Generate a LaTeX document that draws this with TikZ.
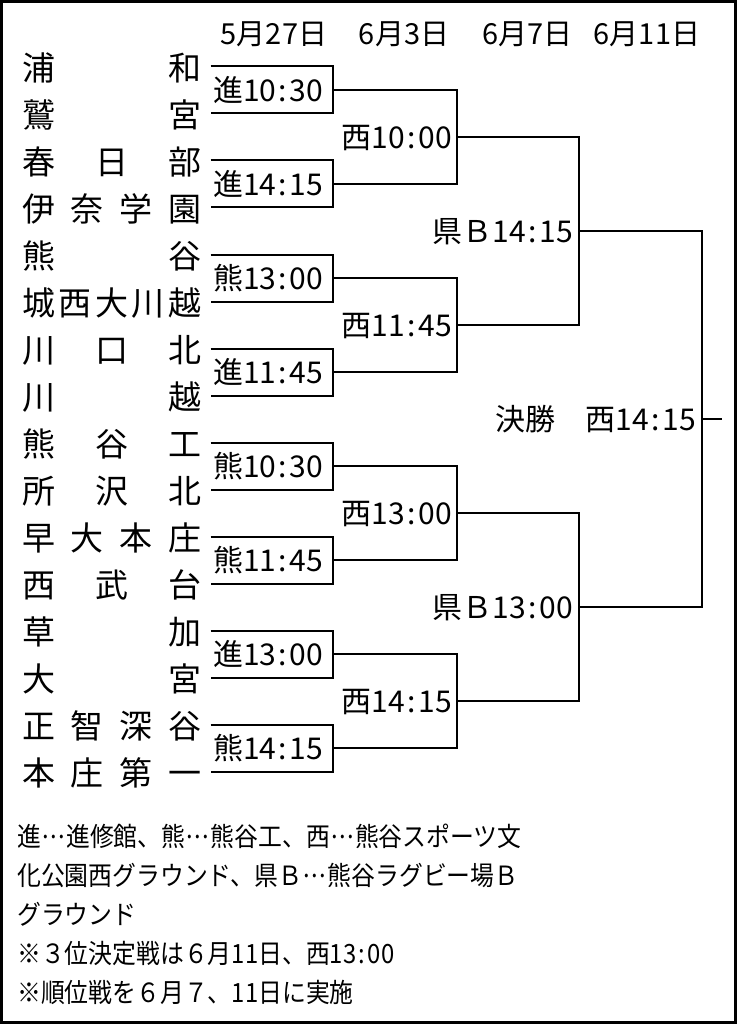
\documentclass[tikz,border=0pt]{standalone}
\usepackage{fontspec}
\setmainfont{Noto Sans CJK JP}
\newfontfamily\notefont[FakeStretch=0.9]{Noto Sans CJK JP}
\newcommand\cln{\kern2.5pt:\kern2.5pt}
\newcommand\dts{\hbox to 0.95em{\hss\raisebox{0.3em}{.}\hss\raisebox{0.3em}{.}\hss\raisebox{0.3em}{.}\hss}}
\begin{document}
\begin{tikzpicture}[x=1pt,y=-1pt,
  line/.style={line width=2pt},
  teamtxt/.style={inner sep=0pt,font=\fontsize{33pt}{33pt}\selectfont,text height=29pt,text depth=4pt},
  gametxt/.style={inner sep=0pt,font=\fontsize{30pt}{30pt}\selectfont,text height=26.4pt,text depth=3.6pt},
  datetxt/.style={inner sep=0pt,font=\fontsize{29pt}{29pt}\selectfont,text height=25.5pt,text depth=3.5pt},
  notetxt/.style={inner sep=0pt,anchor=west,font=\notefont\fontsize{26.5pt}{26.5pt}\selectfont,text height=23.3pt,text depth=3.2pt}]
\useasboundingbox (0,0) rectangle (737,1024);
\draw[line width=3pt] (1.5,1.5) rectangle (735.5,1022.5);
% dates
\node[datetxt] (d1) at (274,34) {5月27日};
\node[datetxt] (d2) at (404,34) {6月3日};
\node[datetxt] (d3) at (527.5,34) {6月7日};
\node[datetxt] (d4) at (647,34) {6月11日};
% teams
\foreach \r/\n/\nm in {1/2/{浦,和},2/2/{鷲,宮},3/3/{春,日,部},4/4/{伊,奈,学,園},
  5/2/{熊,谷},6/5/{城,西,大,川,越},7/3/{川,口,北},8/2/{川,越},
  9/3/{熊,谷,工},10/3/{所,沢,北},11/4/{早,大,本,庄},12/3/{西,武,台},
  13/2/{草,加},14/2/{大,宮},15/4/{正,智,深,谷},16/4/{本,庄,第,一}}{
  \foreach \c [count=\i] in \nm {
    \node[teamtxt] (t\r-\i) at ({38.5+146*(\i-1)/(\n-1)},{68+47*(\r-1)}) {\c};
  }
}
% round 1
\foreach \k/\lab in {0/進10\cln 30,1/進14\cln 15,2/熊13\cln 00,3/進11\cln 45,
  4/熊10\cln 30,5/熊11\cln 45,6/進13\cln 00,7/熊14\cln 15}{
  \coordinate (a\k) at (210.5,{66.5+94*\k});
  \coordinate (b\k) at (333,{66.5+94*\k});
  \coordinate (c\k) at (333,{113.5+94*\k});
  \coordinate (e\k) at (210.5,{113.5+94*\k});
  \coordinate (m\k) at (333,{90+94*\k});
  \draw[line] (a\k) -- (b\k) -- (c\k) -- (e\k);
  \node[gametxt,anchor=west] (g1-\k) at (213,{90+94*\k}) {\lab};
}
% round 2
\foreach \j/\lab in {0/西10\cln 00,1/西11\cln 45,2/西13\cln 00,3/西14\cln 15}{
  \pgfmathtruncatemacro\ka{2*\j}
  \pgfmathtruncatemacro\kb{2*\j+1}
  \coordinate (p\j) at (457,{90+188*\j});
  \coordinate (q\j) at (457,{184+188*\j});
  \coordinate (n\j) at (457,{137+188*\j});
  \draw[line] (m\ka) -- (p\j) -- (q\j) -- (m\kb);
  \node[gametxt,anchor=east] (g2-\j) at (452,{137+188*\j}) {\lab};
}
% round 3
\foreach \s/\lab in {0/県Ｂ14\cln 15,1/県Ｂ13\cln 00}{
  \pgfmathtruncatemacro\ja{2*\s}
  \pgfmathtruncatemacro\jb{2*\s+1}
  \coordinate (u\s) at (579,{137+376*\s});
  \coordinate (v\s) at (579,{325+376*\s});
  \coordinate (w\s) at (579,{231+376*\s});
  \draw[line] (n\ja) -- (u\s) -- (v\s) -- (n\jb);
  \node[gametxt,anchor=east] (g3-\s) at (573,{231+376*\s}) {\lab};
}
% final
\coordinate (f1) at (702,231);
\coordinate (f2) at (702,607);
\coordinate (fm) at (702,419);
\coordinate (fe) at (722,419);
\draw[line] (w0) -- (f1) -- (f2) -- (w1);
\draw[line] (fm) -- (fe);
\node[gametxt,anchor=east] (g4) at (696,419) {決勝　西14\cln 15};
% notes
\node[notetxt] (n1) at (17,836) {進\dts 進修館、熊\dts 熊谷工、西\dts 熊谷スポーツ文};
\node[notetxt] (n2) at (17,875) {化公園西グラウンド、県Ｂ\dts 熊谷ラグビー場Ｂ};
\node[notetxt] (n3) at (17,914) {グラウンド};
\node[notetxt] (n4) at (17,953) {※３位決定戦は６月11日、西13\cln 00};
\node[notetxt] (n5) at (17,992) {※順位戦を６月７、11日に実施};
\end{tikzpicture}
\end{document}
